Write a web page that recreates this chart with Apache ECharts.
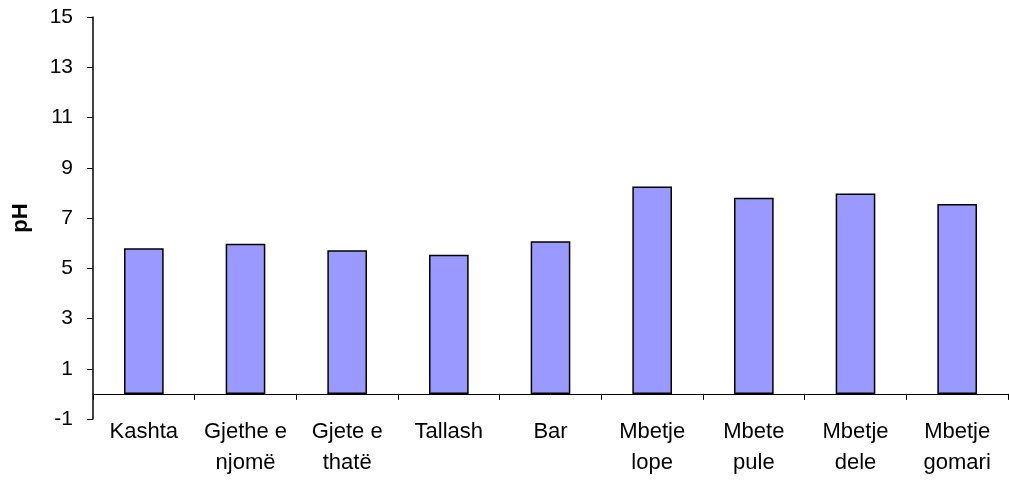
<!DOCTYPE html>
<html>
<head>
<meta charset="utf-8">
<script src="https://cdn.jsdelivr.net/npm/echarts@6/dist/echarts.min.js"></script>
<style>
  html, body { margin: 0; padding: 0; background: #fff; }
  #chart { width: 1009px; height: 483px; }
</style>
</head>
<body>
<div id="chart"></div>
<script>
var categories = ['Kashta', 'Gjethe e\nnjomë', 'Gjete e\nthatë', 'Tallash', 'Bar',
                  'Mbetje\nlope', 'Mbete\npule', 'Mbetje\ndele', 'Mbetje\ngomari'];
var phValues = [5.8, 5.98, 5.72, 5.54, 6.07, 8.25, 7.81, 7.98, 7.56];
var yMin = -1, yMax = 15, yStep = 2;

var myChart = echarts.init(document.getElementById('chart'));

var option = {
    animation: false,
    textStyle: { fontFamily: 'Liberation Sans, Arial, sans-serif' },
    grid: { left: 93, right: 1, top: 17, bottom: 64, containLabel: false, outerBoundsMode: 'none' },
    xAxis: {
        type: 'category',
        data: categories,
        axisLine: { onZero: true, lineStyle: { color: '#000', width: 1 } },
        axisTick: { show: true, length: 6, alignWithLabel: false, lineStyle: { color: '#000' } },
        axisLabel: { color: '#000', fontSize: 22, margin: -3, lineHeight: 31, interval: 0 },
        splitLine: { show: false }
    },
    yAxis: {
        type: 'value',
        min: yMin,
        max: yMax,
        interval: yStep,
        name: 'pH',
        nameLocation: 'middle',
        nameGap: 61,
        nameTextStyle: { color: '#000', fontSize: 22, fontWeight: 'bold' },
        axisLine: { show: true, onZero: false, lineStyle: { color: '#000', width: 1.5 } },
        axisTick: { show: true, length: 6, lineStyle: { color: '#000' } },
        axisLabel: { color: '#000', fontSize: 21, margin: 20 },
        splitLine: { show: false }
    },
    series: [{
        type: 'bar',
        data: phValues,
        barWidth: '39%',
        itemStyle: { color: '#9999FF', borderColor: '#000', borderWidth: 1.5 }
    }]
};

myChart.setOption(option);
</script>
</body>
</html>
